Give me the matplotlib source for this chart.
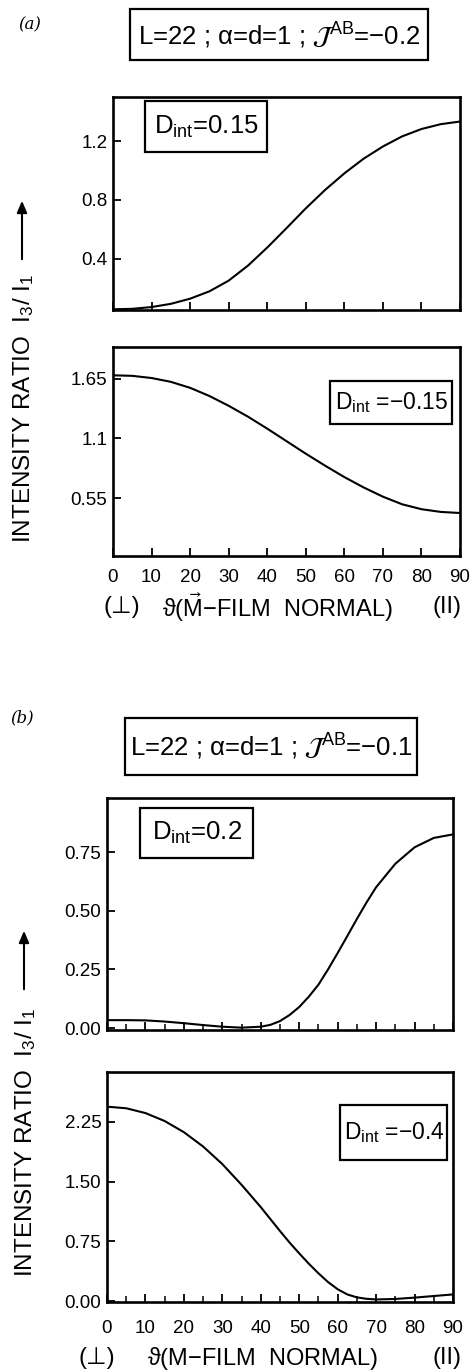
import numpy as np
import matplotlib
matplotlib.use("Agg")
import matplotlib.pyplot as plt
from matplotlib.patches import Rectangle, FancyArrowPatch

plt.rcParams['font.family'] = ['Liberation Sans', 'DejaVu Sans']
plt.rcParams['mathtext.default'] = 'regular'

W, H = 472, 1372

# ---- data (theta in degrees) ----
theta = [0, 5, 10, 15, 20, 25, 30, 35, 40, 45, 50, 55, 60, 65, 70, 75, 80, 85, 90]

# (a) J_AB = -0.2
ratio_a_pos = [0.055, 0.058, 0.07, 0.092, 0.127, 0.177, 0.25, 0.352, 0.475, 0.607, 0.742,
               0.867, 0.98, 1.08, 1.163, 1.232, 1.282, 1.315, 1.333]   # D_int = 0.15
ratio_a_neg = [1.68, 1.675, 1.655, 1.62, 1.565, 1.49, 1.40, 1.30, 1.19, 1.075, 0.96,
               0.85, 0.745, 0.65, 0.565, 0.495, 0.45, 0.425, 0.415]   # D_int = -0.15
# (b) J_AB = -0.1
theta_b = [0, 5, 10, 15, 20, 25, 30, 35, 40, 42.5, 45, 47.5, 50, 52.5, 55, 57.5, 60,
           62.5, 65, 67.5, 70, 75, 80, 85, 90]
ratio_b_pos = [0.034, 0.034, 0.033, 0.028, 0.021, 0.013, 0.006, 0.002, 0.006, 0.014, 0.03,
               0.056, 0.09, 0.134, 0.185, 0.25, 0.32, 0.392, 0.465, 0.535, 0.60, 0.70,
               0.77, 0.81, 0.825]   # D_int = 0.2
ratio_b_neg = [2.44, 2.42, 2.36, 2.26, 2.12, 1.94, 1.72, 1.46, 1.18, 1.03, 0.88, 0.735,
               0.60, 0.47, 0.35, 0.24, 0.15, 0.085, 0.048, 0.03, 0.022, 0.028, 0.045,
               0.065, 0.085]        # D_int = -0.4

xticks = [0, 10, 20, 30, 40, 50, 60, 70, 80, 90]
yticks_a1 = [0.4, 0.8, 1.2]
yticks_a2 = [0.55, 1.1, 1.65]
yticks_b1 = [0.00, 0.25, 0.50, 0.75]
yticks_b2 = [0.00, 0.75, 1.50, 2.25]


def px_axes(left, top, right, bottom):
    return fig.add_axes([left / W, 1 - bottom / H, (right - left) / W, (bottom - top) / H])


def ftext(x, y, s, **kw):
    return fig.text(x / W, 1 - y / H, s, **kw)


def fbox(x0, y0, x1, y1):
    fig.add_artist(Rectangle((x0 / W, 1 - y1 / H), (x1 - x0) / W, (y1 - y0) / H,
                             transform=fig.transFigure, fill=False, ec='black', lw=1.6))


def style(ax, ylim, yticks, ylabels, minor_step, xpad):
    ax.set_xlim(0, 90)
    ax.set_ylim(*ylim)
    ax.set_yticks(yticks)
    ax.set_yticklabels(ylabels)
    ax.set_xticks(xticks)
    ax.set_xticks(np.arange(0, 91, minor_step), minor=True)
    ax.tick_params(direction='in', length=6, width=1.3, labelsize=13.5)
    ax.tick_params(which='minor', direction='in', length=4, width=1.1)
    ax.tick_params(axis='y', which='both', right=False, pad=4)
    ax.tick_params(axis='x', which='both', top=False, pad=xpad if xpad else 4)
    if not xpad:
        ax.set_xticklabels([])
    for sp in ax.spines.values():
        sp.set_linewidth(1.9)


fig = plt.figure(figsize=(W / 100, H / 100), dpi=100)

# ---------------- panel (a) ----------------
ax1 = px_axes(113, 97, 460, 310)
ax1.plot(theta, ratio_a_pos, color='black', lw=1.5)
style(ax1, (0.05, 1.5), yticks_a1, ['0.4', '0.8', '1.2'], 10, None)

ax2 = px_axes(113, 347, 460, 556)
ax2.plot(theta, ratio_a_neg, color='black', lw=1.5)
style(ax2, (0.02, 1.94), yticks_a2, ['0.55', '1.1', '1.65'], 10, 9)

ftext(30, 25, '(a)', fontsize=12, style='italic', family='DejaVu Serif', ha='center', va='center')
fbox(130, 9, 428, 60)
ftext(279, 36, r'L=22 ; $\alpha$=d=1 ; $\mathcal{J}^{AB}$=$-$0.2', fontsize=18.5,
      ha='center', va='center')
fbox(145, 101, 267, 152)
ftext(206, 127, r'D$_{int}$=0.15', fontsize=18.5, ha='center', va='center')
fbox(330, 381, 452, 424)
ftext(391, 403, r'D$_{int}$ =$-$0.15', fontsize=16.5, ha='center', va='center')

ftext(122, 607, '(⊥)', fontsize=17, ha='center', va='center')
ftext(277, 607, r'$\vartheta$($\vec{M}$$-$FILM  NORMAL)', fontsize=17, ha='center', va='center')
ftext(447, 607, '(II)', fontsize=17, ha='center', va='center')

ftext(24, 408, r'INTENSITY RATIO  I$_3$/ I$_1$', fontsize=17.5, rotation=90,
      ha='center', va='center')
fig.add_artist(FancyArrowPatch(
    (22 / W, 1 - 262 / H), (22 / W, 1 - 198 / H), transform=fig.transFigure,
    arrowstyle='-|>,head_length=7,head_width=3', color='black', lw=1.5))

# ---------------- panel (b) ----------------
ax3 = px_axes(107, 798, 453, 1030)
ax3.plot(theta_b, ratio_b_pos, color='black', lw=1.5)
style(ax3, (-0.008, 0.98), yticks_b1, ['0.00', '0.25', '0.50', '0.75'], 5, None)

ax4 = px_axes(107, 1072, 453, 1302)
ax4.plot(theta_b, ratio_b_neg, color='black', lw=1.5)
style(ax4, (-0.01, 2.875), yticks_b2, ['0.00', '0.75', '1.50', '2.25'], 5, 13)

ftext(22, 718, '(b)', fontsize=12, style='italic', family='DejaVu Serif', ha='center', va='center')
fbox(125, 718, 417, 775)
ftext(271, 747, r'L=22 ; $\alpha$=d=1 ; $\mathcal{J}^{AB}$=$-$0.1', fontsize=18.5,
      ha='center', va='center')
fbox(140, 808, 253, 858)
ftext(197, 833, r'D$_{int}$=0.2', fontsize=18.5, ha='center', va='center')
fbox(340, 1105, 447, 1160)
ftext(394, 1133, r'D$_{int}$ =$-$0.4', fontsize=16.5, ha='center', va='center')

ftext(97, 1358, '(⊥)', fontsize=17, ha='center', va='center')
ftext(262, 1358, r'$\vartheta$(M$-$FILM  NORMAL)', fontsize=17, ha='center', va='center')
ftext(447, 1358, '(II)', fontsize=17, ha='center', va='center')

ftext(26, 1142, r'INTENSITY RATIO  I$_3$/ I$_1$', fontsize=17.5, rotation=90,
      ha='center', va='center')
fig.add_artist(FancyArrowPatch(
    (24 / W, 1 - 992 / H), (24 / W, 1 - 928 / H), transform=fig.transFigure,
    arrowstyle='-|>,head_length=7,head_width=3', color='black', lw=1.5))

fig.savefig('out.png', dpi=100)
